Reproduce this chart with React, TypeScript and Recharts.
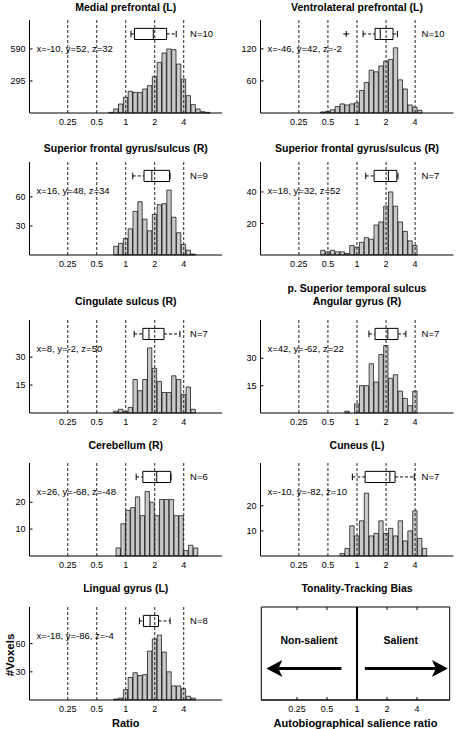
import React from "react";
import {
  ComposedChart,
  Bar,
  Line,
  XAxis,
  YAxis,
  ReferenceLine,
  ReferenceArea,
  ReferenceDot,
} from "recharts";

// ─── Data ─────────────────────────────────────────────────────────────────

const RATIO_TICKS = [0.25, 0.5, 1, 2, 4];
const LOG_TICKS = RATIO_TICKS.map(Math.log2);
const BIN_WIDTH = 1 / 6; // histogram bins, in octaves of the ratio

// bin index of the first bar (center = index * BIN_WIDTH, log2 ratio)
const MPFC_FIRST = -3;
const MPFC_COUNTS = [6, 37, 83, 144, 200, 190, 190, 221, 252, 335, 467, 553, 590, 583, 451, 313, 160, 77, 37, 12, 6];
const MPFC_Y_TICKS = [295, 590];
const MPFC_BOX = [0.18, 0.3, 0.95, 1.41, 1.74]; // lo, q1, median, q3, hi (log2)

const VLPFC_FIRST = -7;
const VLPFC_COUNTS = [2, 3, 6, 12, 17, 15, 17, 19, 42, 57, 80, 77, 88, 97, 100, 122, 62, 45, 15, 11, 5];
const VLPFC_Y_TICKS = [60, 120];
const VLPFC_BOX = [0.21, 0.62, 0.8, 1.24, 1.39];
const VLPFC_OUTLIERS = [-0.37];

const SFG1_FIRST = -2;
const SFG1_COUNTS = [9, 12, 17, 27, 45, 55, 37, 25, 42, 52, 53, 67, 39, 23, 11, 5, 1];
const SFG1_Y_TICKS = [30, 60];
const SFG1_BOX = [0.24, 0.63, 0.9, 1.51, 1.53];

const SFG2_FIRST = -7;
const SFG2_COUNTS = [3, 2, 3, 2, 2, 1, 6, 5, 8, 11, 10, 19, 21, 31, 40, 31, 21, 15, 9, 6];
const SFG2_Y_TICKS = [20, 40];
const SFG2_BOX = [0.3, 0.59, 1.08, 1.37, 1.41];

const CING_FIRST = -2;
const CING_COUNTS = [1, 2, 1, 3, 18, 12, 18, 35, 24, 17, 11, 11, 20, 18, 10, 14, 2];
const CING_Y_TICKS = [15, 30];
const CING_BOX = [0.29, 0.59, 0.8, 1.32, 1.87];

const STS_FIRST = -2;
const STS_COUNTS = [1, 0, 5, 15, 15, 27, 17, 32, 37, 19, 21, 12, 8, 4, 12];
const STS_Y_TICKS = [15, 30];
const STS_BOX = [0.41, 0.62, 1.06, 1.41, 1.68];

const CEREB_FIRST = -1.5;
const CEREB_COUNTS = [3, 12, 17, 18, 22, 15, 24, 20, 15, 21, 21, 21, 15, 15, 2, 4, 3];
const CEREB_Y_TICKS = [10, 20];
const CEREB_BOX = [0.36, 0.59, 1.07, 1.55, 1.56];

const CUNEUS_FIRST = -3;
const CUNEUS_COUNTS = [1, 3, 12, 8, 14, 25, 8, 9, 14, 9, 11, 8, 14, 6, 10, 18, 7, 3];
const CUNEUS_Y_TICKS = [10, 20];
const CUNEUS_BOX = [-0.16, 0.28, 1.13, 1.31, 1.97];

const LING_FIRST = -2;
const LING_COUNTS = [1, 2, 11, 24, 29, 26, 27, 52, 65, 69, 51, 30, 15, 15, 12, 4, 2];
const LING_Y_TICKS = [30, 60];
const LING_BOX = [0.47, 0.61, 0.84, 1.13, 1.53];

// ─── Layout ───────────────────────────────────────────────────────────────

const FONT = '"Liberation Sans", Arial, Helvetica, sans-serif';
const PLOT_H = 93;
const ROW_TOP = [20, 161.5, 319.5, 462.5, 607];
const TITLE_Y = [7.5, 148, 301, 445.5, 588];
const COL_CENTER = [125.75, 357];

const PANELS = [
  { title: ["Medial prefrontal (L)"], coord: "x=-10, y=52, z=32", n: 10, first: MPFC_FIRST, counts: MPFC_COUNTS, yTicks: MPFC_Y_TICKS, yMax: 857, box: MPFC_BOX, outliers: [], col: 0, row: 0 },
  { title: ["Ventrolateral prefrontal (L)"], coord: "x=-46, y=42, z=-2", n: 10, first: VLPFC_FIRST, counts: VLPFC_COUNTS, yTicks: VLPFC_Y_TICKS, yMax: 174, box: VLPFC_BOX, outliers: VLPFC_OUTLIERS, col: 1, row: 0 },
  { title: ["Superior frontal gyrus/sulcus (R)"], coord: "x=16, y=48, z=34", n: 9, first: SFG1_FIRST, counts: SFG1_COUNTS, yTicks: SFG1_Y_TICKS, yMax: 96, box: SFG1_BOX, outliers: [], col: 0, row: 1 },
  { title: ["Superior frontal gyrus/sulcus (R)"], coord: "x=18, y=32, z=52", n: 7, first: SFG2_FIRST, counts: SFG2_COUNTS, yTicks: SFG2_Y_TICKS, yMax: 59, box: SFG2_BOX, outliers: [], col: 1, row: 1 },
  { title: ["Cingulate sulcus (R)"], coord: "x=8, y=-2, z=50", n: 7, first: CING_FIRST, counts: CING_COUNTS, yTicks: CING_Y_TICKS, yMax: 50, box: CING_BOX, outliers: [], col: 0, row: 2 },
  { title: ["p. Superior temporal sulcus", "Angular gyrus (R)"], coord: "x=42, y=-62, z=22", n: 7, first: STS_FIRST, counts: STS_COUNTS, yTicks: STS_Y_TICKS, yMax: 51, box: STS_BOX, outliers: [], col: 1, row: 2 },
  { title: ["Cerebellum (R)"], coord: "x=26, y=-68, z=-48", n: 6, first: CEREB_FIRST, counts: CEREB_COUNTS, yTicks: CEREB_Y_TICKS, yMax: 34.6, box: CEREB_BOX, outliers: [], col: 0, row: 3 },
  { title: ["Cuneus (L)"], coord: "x=-10, y=-82, z=10", n: 7, first: CUNEUS_FIRST, counts: CUNEUS_COUNTS, yTicks: CUNEUS_Y_TICKS, yMax: 37, box: CUNEUS_BOX, outliers: [], col: 1, row: 3 },
  { title: ["Lingual gyrus (L)"], coord: "x=-18, y=-86, z=-4", n: 8, first: LING_FIRST, counts: LING_COUNTS, yTicks: LING_Y_TICKS, yMax: 99, box: LING_BOX, outliers: [], col: 0, row: 4 },
];

// ─── Ticks & shapes ───────────────────────────────────────────────────────

function YTick(props: any) {
  const { x, y, payload } = props;
  return (
    <g>
      <line x1={x + 4} x2={x + 7} y1={y} y2={y} stroke="#000" strokeWidth={1} />
      <text x={x} y={y + 3.2} textAnchor="end" fontSize={9} fill="#000">
        {payload.value}
      </text>
    </g>
  );
}

function XTick(props: any) {
  const { x, y, payload, boxH } = props;
  const axisY = y - 4;
  return (
    <g>
      {boxH ? (
        <>
          <line x1={x} x2={x} y1={axisY} y2={axisY - 3} stroke="#000" />
          <line x1={x} x2={x} y1={axisY - boxH} y2={axisY - boxH + 3} stroke="#000" />
        </>
      ) : null}
      <text x={x} y={axisY + 12} textAnchor="middle" fontSize={9} fill="#000">
        {String(2 ** payload.value)}
      </text>
    </g>
  );
}

function PlusShape(props: any) {
  const { cx, cy } = props;
  return (
    <path d={`M${cx - 3},${cy}H${cx + 3}M${cx},${cy - 3}V${cy + 3}`} stroke="#000" strokeWidth={1} fill="none" />
  );
}

function ArrowShape(props: any) {
  const { x1, y1, x2, y2 } = props;
  const dir = x2 > x1 ? 1 : -1;
  const baseX = x2 - dir * 16;
  const notchX = baseX + dir * 4;
  return (
    <g>
      <line x1={x1} y1={y1} x2={notchX} y2={y2} stroke="#000" strokeWidth={3} />
      <polygon points={`${x2},${y2} ${baseX},${y2 - 8.5} ${notchX},${y2} ${baseX},${y2 + 8.5}`} fill="#000" />
    </g>
  );
}

// ─── Panels ───────────────────────────────────────────────────────────────

function HistPanel({ p }: { p: (typeof PANELS)[number] }) {
  const left = p.col === 0 ? 0 : 228;
  const rows = p.counts.map((n, i) => ({ x: (p.first + i) * BIN_WIDTH, n }));
  const [lo, q1, med, q3, hi] = p.box;
  const yb0 = p.yMax * 0.79;
  const yb1 = p.yMax * 0.91;
  const yc0 = p.yMax * 0.815;
  const yc1 = p.yMax * 0.885;
  const ym = p.yMax * 0.85;

  return (
    <div style={{ position: "absolute", left, top: ROW_TOP[p.row] - 5 }}>
      <ComposedChart
        width={228}
        height={PLOT_H + 5 + 18}
        data={rows}
        margin={{ top: 5, right: p.col === 0 ? 6 : 2.5, bottom: 0, left: 0 }}
      >
        <XAxis
          type="number"
          dataKey="x"
          domain={[-3.32, 3.32]}
          ticks={LOG_TICKS}
          interval={0}
          height={18}
          tickLine={false}
          tickSize={0}
          tickMargin={4}
          axisLine={{ stroke: "#000" }}
          tick={(t: any) => <XTick {...t} />}
        />
        <YAxis
          type="number"
          domain={[0, p.yMax]}
          ticks={p.yTicks}
          interval={0}
          width={p.col === 0 ? 29.5 : 32.5}
          tickLine={false}
          tickSize={0}
          tickMargin={4}
          axisLine={{ stroke: "#000" }}
          tick={(t: any) => <YTick {...t} />}
        />
        <Bar
          dataKey="n"
          barSize={4.85}
          fill="#c8c8c8"
          stroke="#000"
          strokeWidth={0.7}
          isAnimationActive={false}
        />
        {LOG_TICKS.map((v) => (
          <ReferenceLine key={v} x={v} stroke="#222" strokeDasharray="3 2" />
        ))}
        <ReferenceArea x1={q1} x2={q3} y1={yb0} y2={yb1} fill="none" fillOpacity={0} stroke="#000" strokeWidth={1} />
        <ReferenceLine segment={[{ x: med, y: yb0 }, { x: med, y: yb1 }]} stroke="#000" />
        <ReferenceLine segment={[{ x: lo, y: ym }, { x: q1, y: ym }]} stroke="#000" strokeDasharray="3 2" />
        <ReferenceLine segment={[{ x: q3, y: ym }, { x: hi, y: ym }]} stroke="#000" strokeDasharray="3 2" />
        <ReferenceLine segment={[{ x: lo, y: yc0 }, { x: lo, y: yc1 }]} stroke="#000" />
        <ReferenceLine segment={[{ x: hi, y: yc0 }, { x: hi, y: yc1 }]} stroke="#000" />
        {p.outliers.map((o) => (
          <ReferenceDot key={o} x={o} y={ym} r={3} shape={(s: any) => <PlusShape {...s} />} />
        ))}
        <ReferenceDot
          x={-3.08}
          y={p.yMax * 0.69}
          r={0}
          fill="none"
          stroke="none"
          label={{ value: p.coord, position: "right", offset: 0, fontSize: 9.5, fill: "#000" }}
        />
        <ReferenceDot
          x={2.22}
          y={ym}
          r={0}
          fill="none"
          stroke="none"
          label={{ value: `N=${p.n}`, position: "right", offset: 0, fontSize: 9.5, fill: "#000" }}
        />
      </ComposedChart>
    </div>
  );
}

const LEGEND_DOMAIN = [-3.19, 3.09];
const LEGEND_ROWS = [
  { x: -3.19, y: 0 },
  { x: 3.09, y: 1 },
];

function LegendPanel() {
  return (
    <div style={{ position: "absolute", left: 228, top: ROW_TOP[4] - 5 }}>
      <ComposedChart
        width={228}
        height={PLOT_H + 5 + 18}
        data={LEGEND_ROWS}
        margin={{ top: 5, right: 6.3, bottom: 0, left: 33.3 }}
      >
        <XAxis
          type="number"
          dataKey="x"
          domain={LEGEND_DOMAIN}
          ticks={LOG_TICKS}
          interval={0}
          height={18}
          tickLine={false}
          tickSize={0}
          tickMargin={4}
          axisLine={{ stroke: "#000" }}
          tick={(t: any) => <XTick {...t} boxH={PLOT_H} />}
        />
        <YAxis type="number" domain={[0, 1]} hide />
        {/* invisible carrier series so the axes get a domain */}
        <Line dataKey="y" stroke="none" dot={false} activeDot={false} isAnimationActive={false} />
        <ReferenceArea x1={LEGEND_DOMAIN[0]} x2={LEGEND_DOMAIN[1]} y1={0} y2={1} fill="none" fillOpacity={0} stroke="#000" />
        <ReferenceLine x={0} stroke="#000" strokeWidth={2} />
        <ReferenceLine segment={[{ x: -0.52, y: 0.34 }, { x: -3.02, y: 0.34 }]} shape={(s: any) => <ArrowShape {...s} />} />
        <ReferenceLine segment={[{ x: 0.26, y: 0.34 }, { x: 3.03, y: 0.34 }]} shape={(s: any) => <ArrowShape {...s} />} />
        <ReferenceDot
          x={-1.6}
          y={0.645}
          r={0}
          fill="none"
          stroke="none"
          label={{ value: "Non-salient", position: "center", fontSize: 10.5, fontWeight: "bold", fill: "#000" }}
        />
        <ReferenceDot
          x={1.46}
          y={0.645}
          r={0}
          fill="none"
          stroke="none"
          label={{ value: "Salient", position: "center", fontSize: 10.5, fontWeight: "bold", fill: "#000" }}
        />
      </ComposedChart>
    </div>
  );
}

// ─── Titles ───────────────────────────────────────────────────────────────

function Title({ lines, col, row }: { lines: string[]; col: number; row: number }) {
  return (
    <>
      {lines.map((line, i) => (
        <div
          key={line}
          style={{
            position: "absolute",
            left: COL_CENTER[col] - 120,
            width: 240,
            top: TITLE_Y[row] - 6.5 - (lines.length - 1 - i) * 13,
            lineHeight: "13px",
            textAlign: "center",
            fontSize: 10.5,
            fontWeight: 700,
            whiteSpace: "nowrap",
          }}
        >
          {line}
        </div>
      ))}
    </>
  );
}

// ─── App ──────────────────────────────────────────────────────────────────

export default function App() {
  return (
    <div
      style={{
        position: "absolute",
        left: 0,
        top: 0,
        width: 456,
        height: 729,
        background: "#fff",
        fontFamily: FONT,
        color: "#000",
        overflow: "hidden",
      }}
    >
      {PANELS.map((p) => (
        <React.Fragment key={p.title.join() + p.col}>
          <Title lines={p.title} col={p.col} row={p.row} />
          <HistPanel p={p} />
        </React.Fragment>
      ))}
      <Title lines={["Tonality-Tracking Bias"]} col={1} row={4} />
      <LegendPanel />

      <div
        style={{
          position: "absolute",
          left: 10 - 30,
          top: 655 - 7,
          width: 60,
          lineHeight: "14px",
          textAlign: "center",
          fontSize: 11.5,
          fontWeight: 700,
          transform: "rotate(-90deg)",
        }}
      >
        #Voxels
      </div>
      <div style={{ position: "absolute", left: COL_CENTER[0] - 60, width: 120, top: 716, lineHeight: "14px", textAlign: "center", fontSize: 11, fontWeight: 700 }}>
        Ratio
      </div>
      <div style={{ position: "absolute", left: 355.5 - 110, width: 220, top: 716, lineHeight: "14px", textAlign: "center", fontSize: 11, fontWeight: 700 }}>
        Autobiographical salience ratio
      </div>
    </div>
  );
}
